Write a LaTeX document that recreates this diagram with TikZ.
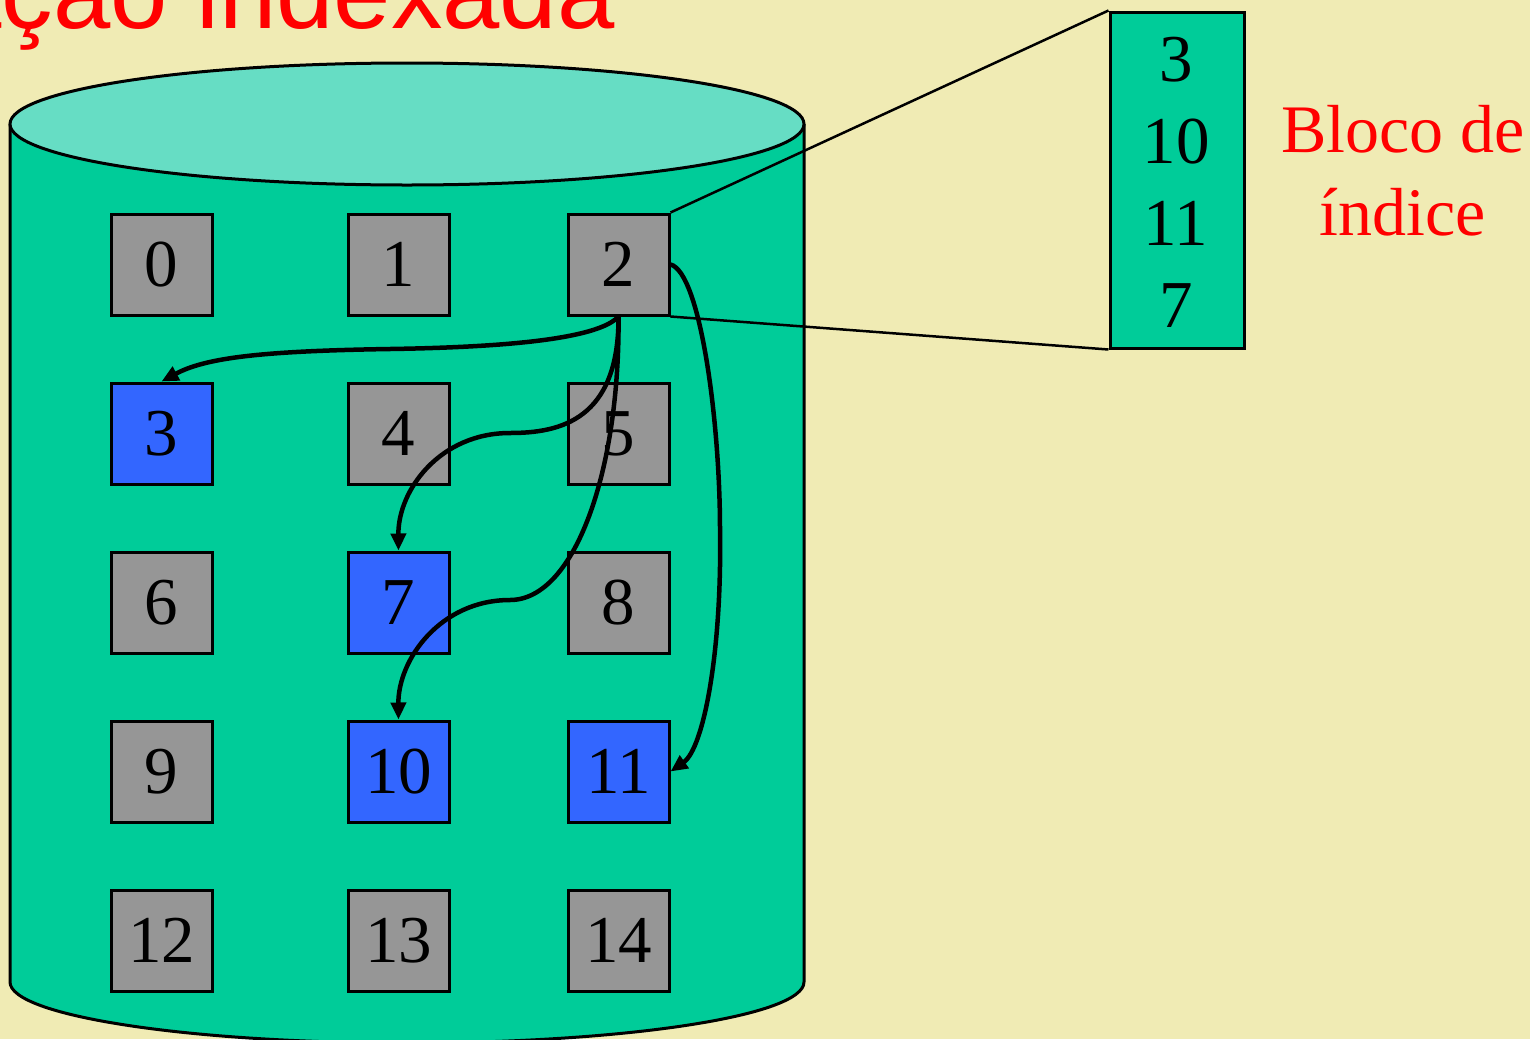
\documentclass[tikz,border=0pt]{standalone}
\usepackage{fontspec}
\setmainfont{Liberation Serif}
\newfontfamily\titlefont{Liberation Sans}
\usetikzlibrary{arrows.meta}
\definecolor{bgyellow}{RGB}{240,235,180}
\definecolor{cylbody}{RGB}{0,204,153}
\definecolor{cyltop}{RGB}{102,221,196}
\definecolor{blockgray}{RGB}{150,150,150}
\definecolor{blockblue}{RGB}{51,102,255}
\definecolor{titlered}{RGB}{255,0,0}
\tikzset{
  blk/.style={draw=black, line width=3pt, fill=blockgray, minimum width=101pt, minimum height=101pt, inner sep=0pt, font=\fontsize{67}{80}\selectfont},
  used/.style={blk, fill=blockblue},
  ptr/.style={line width=4.5pt, -{Triangle[length=17pt,width=15pt]}},
  zoomline/.style={line width=2.5pt},
  idxnum/.style={inner sep=0pt, font=\fontsize{67}{80}\selectfont},
}
\begin{document}
\begin{tikzpicture}[x=1pt,y=-1pt]
\useasboundingbox (0,0) rectangle (1530,1039);
\clip (0,0) rectangle (1530,1039);
\fill[bgyellow] (0,0) rectangle (1530,1039);
% title (cut off at the top, as in the reference)
\node[anchor=base east, inner sep=0pt, text=titlered, font=\titlefont\fontsize{103}{120}\selectfont] (title) at (615,28) {Alocação indexada};
% cylinder body
\fill[cylbody] (10,124) -- (10,982) .. controls (10,1015.7) and (187.7,1043) .. (407,1043) .. controls (626.3,1043) and (804,1015.7) .. (804,982) -- (804,124) -- cycle;
\draw[line width=3pt] (10,124) -- (10,982) .. controls (10,1015.7) and (187.7,1043) .. (407,1043) .. controls (626.3,1043) and (804,1015.7) .. (804,982) -- (804,124);
\draw[line width=3pt, fill=cyltop] (407,124) ellipse [x radius=397pt, y radius=61pt];
% blocks
\node[blk]  (b0)  at (161.5,264.5) {0};
\node[blk]  (b1)  at (398.5,264.5) {1};
\node[blk]  (b2)  at (618.5,264.5) {2};
\node[used] (b3)  at (161.5,433.5) {3};
\node[blk]  (b4)  at (398.5,433.5) {4};
\node[blk]  (b5)  at (618.5,433.5) {5};
\node[blk]  (b6)  at (161.5,602.5) {6};
\node[used] (b7)  at (398.5,602.5) {7};
\node[blk]  (b8)  at (618.5,602.5) {8};
\node[blk]  (b9)  at (161.5,771.5) {9};
\node[used] (b10) at (398.5,771.5) {10};
\node[used] (b11) at (618.5,771.5) {11};
\node[blk]  (b12) at (161.5,940.5) {12};
\node[blk]  (b13) at (398.5,940.5) {13};
\node[blk]  (b14) at (618.5,940.5) {14};
% index block
\node[draw=black, line width=3pt, fill=cylbody, minimum width=134pt, minimum height=336pt, inner sep=0pt] (idx) at (1177,180) {};
\node[idxnum] (i1) at (1176,60) {3};
\node[idxnum] (i2) at (1176,142) {10};
\node[idxnum] (i3) at (1176,223) {11};
\node[idxnum] (i4) at (1176,306) {7};
\draw[zoomline] (b2.north east) -- (idx.north west);
\draw[zoomline] (b2.south east) -- (idx.south west);
\node[inner sep=0pt, text=titlered, align=center, font=\fontsize{68}{83}\selectfont] (lbl) at (1403,171) {Bloco de\\índice};
% pointers
\draw[ptr] (b2.south) .. controls (600,337) and (520,347) .. (390,349) .. controls (260,351) and (205,358) .. (b3.north);
\draw[ptr] (b2.south) .. controls (619,420) and (560,433) .. (510,433) .. controls (440,433) and (398,490) .. (b7.north);
\draw[ptr] (b2.south) .. controls (620,470) and (575,600) .. (510,600) .. controls (440,600) and (398,660) .. (b10.north);
\draw[ptr] (b2.east) .. controls (700,272) and (720,420) .. (720,530) .. controls (722,650) and (704,748) .. (b11.east);
\end{tikzpicture}
\end{document}
